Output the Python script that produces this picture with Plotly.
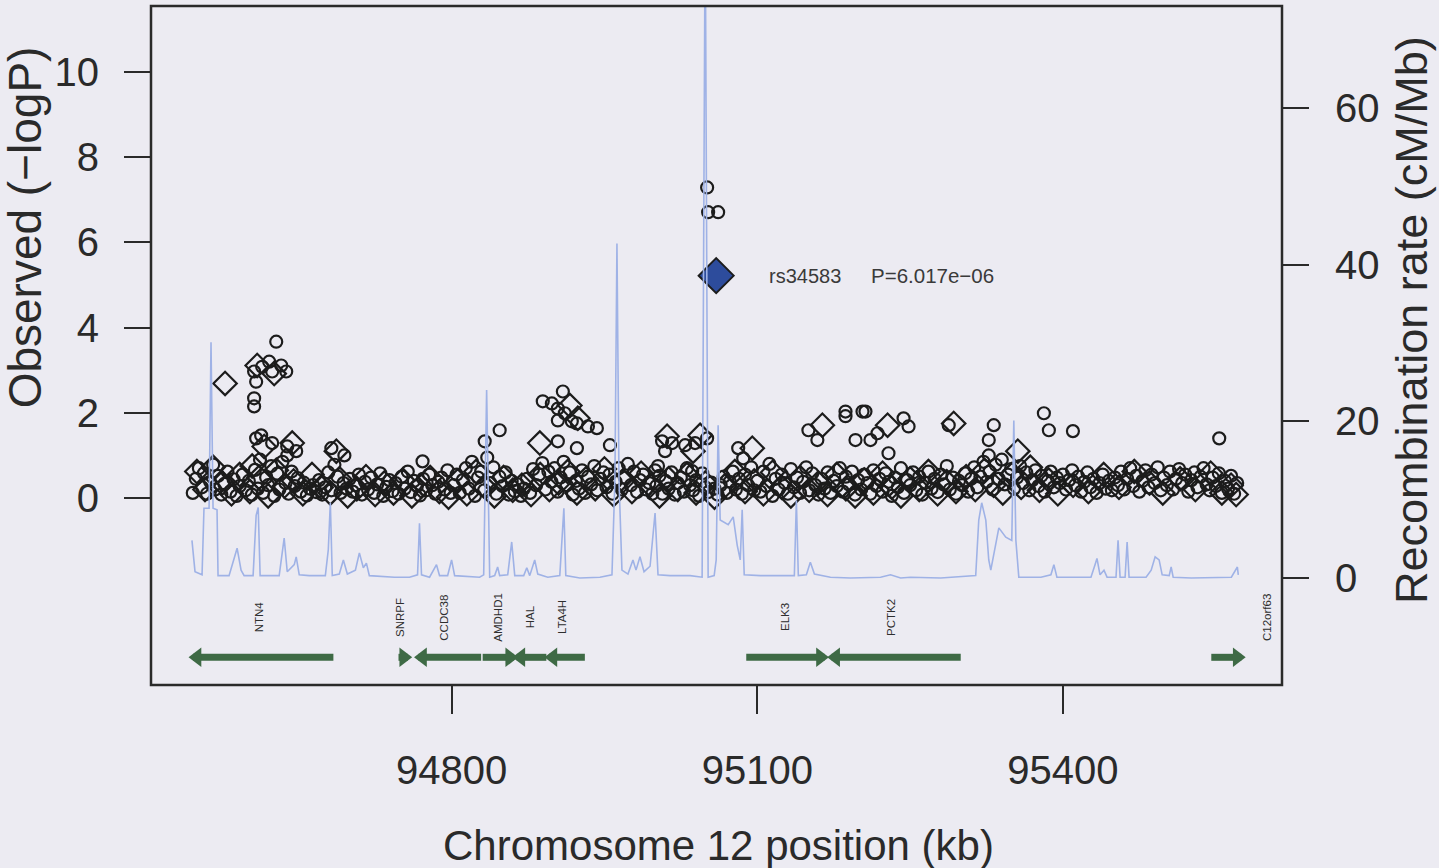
import plotly.graph_objects as go

BG = "#ecebf2"
INK = "#1c1c1c"
GREEN = "#3e6a45"
RECOMB_COLOR = "#9fb2e6"

# ---------------- recombination rate (cM/Mb) ----------------
recomb_kb = [94545.2, 94548.2, 94555.1, 94557.0, 94562.0, 94563.9, 94565.9, 94569.8, 94570.8, 94581.6,
             94587.5, 94589.5, 94593.4, 94596.4, 94605.2, 94608.2, 94610.2, 94612.1, 94630.8, 94635.7,
             94638.7, 94645.6, 94647.5, 94650.5, 94660.3, 94676.1, 94679.0, 94681.0, 94682.9, 94689.8,
             94693.8, 94697.7, 94705.6, 94709.5, 94713.4, 94716.4, 94719.3, 94743.9, 94758.7, 94766.6,
             94768.5, 94770.5, 94778.4, 94782.3, 94785.2, 94788.2, 94796.1, 94800.0, 94803.0, 94827.5,
             94831.5, 94834.4, 94837.4, 94842.3, 94845.2, 94847.2, 94855.1, 94859.0, 94862.0, 94870.8,
             94873.8, 94876.7, 94881.6, 94884.6, 94894.4, 94906.2, 94910.2, 94912.1, 94925.9, 94945.6,
             94957.4, 94960.3, 94962.3, 94964.3, 94967.2, 94973.1, 94978.0, 94981.0, 94984.9, 94988.9,
             94994.8, 94999.7, 95002.6, 95014.4, 95034.1, 95045.9, 95048.9, 95051.8, 95057.7, 95059.7,
             95061.6, 95063.6, 95071.5, 95076.4, 95080.3, 95083.3, 95085.2, 95087.2, 95103.0, 95136.4,
             95138.4, 95140.3, 95148.2, 95152.1, 95156.1, 95171.8, 95191.5, 95221.0, 95230.8, 95240.7,
             95250.5, 95280.0, 95314.4, 95317.4, 95320.3, 95324.3, 95327.2, 95329.2, 95337.1, 95343.9,
             95349.8, 95351.8, 95353.8, 95356.7, 95378.4, 95388.2, 95391.1, 95394.1, 95427.5, 95431.5,
             95433.4, 95436.4, 95440.3, 95443.3, 95452.1, 95454.1, 95456.1, 95461.0, 95463.0, 95464.9,
             95481.6, 95486.6, 95490.5, 95494.4, 95497.4, 95504.3, 95506.2, 95508.2, 95525.9, 95565.3,
             95571.2, 95572.1]
recomb_rate = [4.8, 0.8, 0.4, 8.9, 8.9, 30.1, 8.9, 8.7, 0.3, 0.3,
               2.9, 3.8, 1.0, 0.3, 0.3, 8.0, 9.0, 0.3, 0.3, 5.1,
               0.8, 1.7, 2.7, 0.4, 0.3, 0.3, 3.6, 9.6, 0.3, 0.5,
               2.3, 0.5, 1.0, 3.2, 1.3, 1.9, 0.3, 0.1, 0.1, 0.4,
               7.0, 0.4, 0.1, 1.0, 1.7, 0.3, 0.3, 2.3, 0.3, 0.1,
               0.4, 24.0, 0.1, 0.3, 1.4, 0.3, 0.4, 4.6, 0.3, 0.3,
               1.3, 0.3, 2.3, 0.5, 0.1, 0.3, 8.9, 0.3, 0.0, 0.1,
               0.4, 12.5, 42.7, 12.5, 1.0, 0.5, 2.3, 1.0, 2.7, 0.8,
               1.5, 8.3, 0.4, 0.3, 0.3, 0.1, 85.0, 0.1, 0.3, 2.3,
               19.5, 7.4, 6.8, 7.8, 4.2, 2.3, 8.7, 0.4, 0.3, 0.3,
               9.9, 0.3, 0.4, 2.0, 0.5, 0.1, 0.0, 0.1, 0.4, 0.0,
               0.1, 0.0, 0.3, 7.4, 9.6, 7.4, 2.3, 1.0, 6.4, 5.2,
               4.8, 20.1, 4.8, 0.1, 0.1, 0.4, 1.7, 0.1, 0.1, 1.7,
               2.5, 0.4, 1.0, 0.1, 0.1, 4.8, 0.1, 0.1, 4.6, 0.1,
               0.1, 1.0, 2.7, 2.3, 0.4, 0.3, 1.4, 0.1, 0.0, 0.1,
               1.4, 0.4]

# ---------------- SNP association results ----------------
# dense band of circles (position kb, -log10 P)
circ_a_kb = [94546, 94549, 94552, 94555, 94557, 94560, 94563, 94566, 94568, 94571, 94574, 94577, 94580,
             94583, 94586, 94589, 94592, 94595, 94598]
circ_a_p = [0.12, 0.45, 0.70, 0.25, 0.58, 0.10, 0.38, 0.78, 0.20, 0.52, 0.08, 0.33, 0.62,
            0.15, 0.44, 0.05, 0.28, 0.55, 0.18]
circ_b_kb = [94601, 94604, 94607, 94610, 94612, 94615, 94618, 94620, 94623, 94626, 94629, 94631, 94634,
             94637, 94640, 94643, 94646, 94649, 94652, 94655, 94658, 94661, 94664, 94667, 94670, 94673,
             94676, 94679, 94682, 94685, 94688, 94691, 94694, 94697]
circ_b_p = [0.40, 0.08, 0.66, 0.22, 0.90, 0.12, 0.48, 0.30, 0.75, 0.05, 0.57, 0.20, 0.85,
            0.35, 0.10, 0.62, 0.28, 0.47, 0.15, 0.36, 0.06, 0.22, 0.30, 0.14, 0.42, 0.08,
            0.25, 0.60, 0.18, 0.78, 0.50, 0.12, 0.35, 0.22]
circ_c_kb = [94700, 94703, 94706, 94709, 94712, 94715, 94718, 94721, 94724, 94727, 94730, 94733, 94736,
             94739, 94742, 94745, 94748, 94751, 94754, 94757, 94760, 94763, 94766, 94769, 94772, 94775,
             94778, 94781, 94784, 94787, 94790, 94793, 94796, 94799]
circ_c_p = [0.45, 0.15, 0.30, 0.55, 0.08, 0.38, 0.20, 0.48, 0.12, 0.32, 0.58, 0.05, 0.26,
            0.42, 0.16, 0.35, 0.10, 0.50, 0.22, 0.62, 0.14, 0.40, 0.28, 0.06, 0.45, 0.18,
            0.55, 0.30, 0.10, 0.38, 0.48, 0.20, 0.65, 0.12]
circ_d_kb = [94802, 94805, 94808, 94811, 94814, 94817, 94820, 94823, 94826, 94829, 94832, 94835, 94838,
             94841, 94844, 94847, 94850, 94853, 94856, 94859, 94862, 94865, 94868, 94871, 94874, 94877,
             94880, 94883, 94886, 94889, 94892, 94895, 94898]
circ_d_p = [0.30, 0.55, 0.12, 0.42, 0.70, 0.22, 0.85, 0.05, 0.48, 0.62, 0.18, 0.95, 0.35,
            0.72, 0.10, 0.50, 0.28, 0.60, 0.08, 0.40, 0.16, 0.32, 0.05, 0.22, 0.45, 0.12,
            0.68, 0.30, 0.55, 0.82, 0.20, 0.62, 0.38]
circ_e_kb = [94901, 94904, 94907, 94910, 94913, 94916, 94919, 94922, 94925, 94928, 94931, 94934, 94937,
             94940, 94943, 94946, 94949, 94952, 94955, 94958, 94961, 94964, 94967, 94970, 94973, 94976,
             94979, 94982, 94985, 94988, 94991, 94994, 94997]
circ_e_p = [0.70, 0.15, 0.48, 0.85, 0.30, 0.60, 0.08, 0.40, 0.22, 0.65, 0.12, 0.50, 0.32,
            0.75, 0.18, 0.45, 0.60, 0.25, 0.55, 0.10, 0.38, 0.70, 0.20, 0.48, 0.80, 0.30,
            0.62, 0.14, 0.42, 0.55, 0.20, 0.35, 0.10]
circ_f_kb = [95001, 95004, 95007, 95010, 95013, 95016, 95019, 95022, 95025, 95028, 95031, 95034, 95037,
             95040, 95043, 95046, 95049, 95052, 95055, 95058, 95061, 95064, 95067, 95070, 95073, 95076,
             95079, 95082, 95085, 95088, 95091, 95094, 95097]
circ_f_p = [0.28, 0.52, 0.10, 0.40, 0.22, 0.60, 0.08, 0.35, 0.48, 0.15, 0.70, 0.30, 0.18,
            0.42, 0.05, 0.58, 0.25, 0.14, 0.36, 0.22, 0.08, 0.30, 0.50, 0.12, 0.38, 0.62,
            0.20, 0.45, 0.10, 0.55, 0.30, 0.72, 0.18]
circ_g_kb = [95100, 95103, 95106, 95109, 95112, 95115, 95118, 95121, 95124, 95127, 95130, 95133, 95136,
             95139, 95142, 95145, 95148, 95151, 95154, 95157, 95160, 95163, 95166, 95169, 95172, 95175,
             95178, 95181, 95184, 95187, 95190, 95193, 95196, 95199]
circ_g_p = [0.40, 0.15, 0.62, 0.28, 0.80, 0.05, 0.45, 0.20, 0.55, 0.35, 0.10, 0.68, 0.25,
            0.48, 0.12, 0.38, 0.72, 0.18, 0.58, 0.30, 0.08, 0.45, 0.22, 0.60, 0.12, 0.40,
            0.28, 0.70, 0.15, 0.50, 0.32, 0.62, 0.08, 0.42]
circ_h_kb = [95202, 95205, 95208, 95211, 95214, 95217, 95220, 95223, 95226, 95229, 95232, 95235, 95238,
             95241, 95244, 95247, 95250, 95253, 95256, 95259, 95262, 95265, 95268, 95271, 95274, 95277,
             95280, 95283, 95286, 95289, 95292, 95295, 95298]
circ_h_p = [0.20, 0.55, 0.35, 0.10, 0.65, 0.28, 0.45, 0.15, 0.58, 0.38, 0.05, 0.48, 0.25,
            0.70, 0.12, 0.42, 0.30, 0.60, 0.18, 0.50, 0.08, 0.36, 0.62, 0.22, 0.45, 0.14,
            0.55, 0.32, 0.75, 0.20, 0.48, 0.10, 0.40]
circ_i_kb = [95301, 95304, 95307, 95310, 95313, 95316, 95319, 95322, 95325, 95328, 95331, 95334, 95337,
             95340, 95343, 95346, 95349, 95352, 95355, 95358, 95361, 95364, 95367, 95370, 95373, 95376,
             95379, 95382, 95385, 95388, 95391, 95394, 95397]
circ_i_p = [0.30, 0.58, 0.15, 0.45, 0.72, 0.25, 0.50, 0.85, 0.38, 0.62, 0.20, 0.78, 0.45,
            0.90, 0.32, 0.55, 0.68, 0.22, 0.48, 0.75, 0.35, 0.60, 0.18, 0.42, 0.65, 0.28,
            0.52, 0.15, 0.40, 0.62, 0.25, 0.48, 0.35]
circ_j_kb = [95400, 95403, 95406, 95409, 95412, 95415, 95418, 95421, 95424, 95427, 95430, 95433, 95436,
             95439, 95442, 95445, 95448, 95451, 95454, 95457, 95460, 95463, 95466, 95469, 95472, 95475,
             95478, 95481, 95484, 95487, 95490, 95493, 95496, 95499]
circ_j_p = [0.55, 0.20, 0.42, 0.65, 0.30, 0.50, 0.15, 0.38, 0.60, 0.25, 0.45, 0.12, 0.35,
            0.55, 0.22, 0.40, 0.18, 0.48, 0.30, 0.62, 0.20, 0.45, 0.70, 0.28, 0.52, 0.15,
            0.40, 0.65, 0.25, 0.55, 0.35, 0.72, 0.18, 0.48]
circ_k_kb = [95502, 95505, 95508, 95511, 95514, 95517, 95520, 95523, 95526, 95529, 95532, 95535, 95538,
             95541, 95544, 95547, 95550, 95553, 95556, 95559, 95562, 95565, 95568, 95571]
circ_k_p = [0.30, 0.62, 0.20, 0.45, 0.68, 0.35, 0.55, 0.15, 0.42, 0.60, 0.25, 0.50, 0.70,
            0.32, 0.18, 0.48, 0.28, 0.58, 0.12, 0.40, 0.22, 0.52, 0.10, 0.35]

# circles standing above the band
circ_top_kb = [94627.9, 94606.2, 94614.1, 94621.0, 94632.8, 94637.7, 94608.2, 94623.9, 94606.2, 94606.2,
               94613.1, 94608.2, 94623.9, 94638.7, 94647.5, 94638.7, 94682.0, 94694.8, 94771.5, 94832.5,
               94847.2, 94889.5, 94898.4, 94909.2, 94904.3, 94904.3, 94911.1, 94918.0, 94923.0, 94933.8,
               94942.6, 94904.3, 94923.0, 94955.4, 95006.6, 95016.4, 95009.5, 95029.2, 95039.0, 95050.8,
               95002.6, 94999.7, 95036.1, 95081.3, 95086.2, 95050.8, 95051.8, 95061.6, 95150.2, 95159.0,
               95186.6, 95186.6, 95203.3, 95206.2, 95196.4, 95211.1, 95218.0, 95243.6, 95248.5, 95228.8,
               95287.9, 95332.1, 95327.2, 95327.2, 95381.3, 95386.2, 95409.8, 95553.4]
circ_top_p = [3.67, 2.97, 3.08, 3.20, 3.11, 2.97, 2.73, 2.97, 2.34, 2.15,
              1.47, 1.40, 1.29, 1.21, 1.10, 1.00, 1.17, 1.00, 0.86, 1.33,
              1.59, 2.27, 2.22, 2.50, 2.10, 1.82, 1.99, 1.80, 1.75, 1.68,
              1.64, 1.33, 1.17, 1.24, 1.33, 1.29, 1.10, 1.24, 1.29, 1.40,
              0.75, 0.65, 0.63, 1.17, 0.93, 7.29, 6.71, 6.71, 1.59, 1.36,
              2.03, 1.92, 2.03, 2.03, 1.36, 1.36, 1.52, 1.87, 1.68, 1.05,
              1.71, 1.71, 1.36, 1.00, 1.99, 1.59, 1.57, 1.40]

# diamonds in the band
dia_band_kb = [94550, 94558, 94566, 94575, 94584, 94592,
               94602, 94611, 94620, 94628, 94636, 94645, 94654, 94663, 94672, 94681, 94690, 94698,
               94707, 94716, 94725, 94734, 94743, 94752, 94761, 94770, 94779, 94788, 94797,
               94806, 94815, 94824, 94833, 94842, 94851, 94860, 94869, 94878, 94887, 94896,
               94905, 94914, 94923, 94932, 94941, 94950, 94959, 94968, 94977, 94986, 94995,
               95004, 95013, 95022, 95031, 95040, 95049, 95058, 95068, 95078, 95088, 95097,
               95106, 95115, 95124, 95133, 95142, 95151, 95160, 95169, 95178, 95187, 95196,
               95205, 95214, 95223, 95232, 95241, 95250, 95259, 95268, 95277, 95286, 95295,
               95305, 95314, 95323, 95332, 95341, 95350, 95359, 95368, 95377, 95386, 95395,
               95410, 95425, 95440, 95455, 95470, 95485, 95498,
               95515, 95530, 95545, 95556, 95565, 95570]
dia_band_p = [0.62, 0.20, 0.72, 0.35, 0.10, 0.55,
              0.15, 0.48, 0.05, 0.65, 0.28, 0.40, 0.10, 0.55, 0.25, 0.12, 0.45, 0.05,
              0.22, 0.50, 0.08, 0.35, 0.12, 0.42, 0.05, 0.28, 0.48, 0.15, 0.02,
              0.40, 0.10, 0.62, 0.25, 0.05, 0.48, 0.18, 0.30, 0.08, 0.55, 0.20,
              0.35, 0.62, 0.12, 0.45, 0.22, 0.68, 0.08, 0.40, 0.15, 0.58, 0.30,
              0.05, 0.45, 0.20, 0.55, 0.12, 0.35, 0.02, 0.28, 0.62, 0.15, 0.40,
              0.10, 0.60, 0.25, 0.05, 0.48, 0.18, 0.35, 0.08, 0.55, 0.22, 0.05,
              0.42, 0.12, 0.58, 0.25, 0.05, 0.45, 0.20, 0.62, 0.10, 0.38, 0.15,
              0.50, 0.20, 0.65, 0.30, 0.12, 0.55, 0.25, 0.72, 0.18, 0.42, 0.10,
              0.30, 0.15, 0.55, 0.25, 0.62, 0.35, 0.12,
              0.45, 0.20, 0.58, 0.12, 0.30, 0.08]
# diamonds standing above the band
dia_top_kb = [94577.7, 94609.2, 94625.9, 94616.1, 94643.6, 94604.3, 94686.9, 94886.6, 94916.1, 94923.9,
              95011.5, 95043.9, 95037.0, 95095.1, 95163.9, 95227.9, 95292.8, 95355.7]
dia_top_p = [2.69, 3.11, 2.92, 1.21, 1.29, 0.75, 1.10, 1.29, 2.17, 1.87,
             1.45, 1.47, 1.10, 1.17, 1.71, 1.71, 1.75, 1.10]

# lead SNP
lead_kb = [95059.7]
lead_p = [5.22]
lead_name = "rs34583"
lead_pval = "P=6.017e\u221206"

# ---------------- genes ----------------
gene_names = ["NTN4", "SNRPF", "CCDC38", "AMDHD1", "HAL", "LTA4H", "ELK3", "PCTK2", "C12orf63"]
gene_start = [94546.2, 94747.9, 94767.5, 94830.5, 94864.0, 94895.5, 95089.2, 95173.0, 95545.6]
gene_end = [94684.0, 94757.0, 94829.0, 94861.0, 94893.0, 94930.8, 95166.0, 95299.7, 95575.0]
gene_strand = ["-", "+", "-", "+", "-", "-", "+", "-", "+"]
gene_label_kb = [94611.0, 94750.0, 94793.0, 94846.0, 94877.0, 94909.0, 95127.0, 95232.0, 95601.0]
x_tick_vals = [94800, 95100, 95400]
x_tick_text = ["94800", "95100", "95400"]
GENE_Y = -3.74
LABEL_Y = -2.8

fig = go.Figure()

fig.add_trace(go.Scatter(x=recomb_kb, y=recomb_rate, yaxis="y2", mode="lines",
                         line=dict(color=RECOMB_COLOR, width=1.6), hoverinfo="skip"))

open_marker = dict(color="rgba(0,0,0,0)", line=dict(color=INK, width=2.2))
all_circ_kb = (circ_a_kb + circ_b_kb + circ_c_kb + circ_d_kb + circ_e_kb + circ_f_kb + circ_g_kb
               + circ_h_kb + circ_i_kb + circ_j_kb + circ_k_kb + circ_top_kb)
all_circ_p = (circ_a_p + circ_b_p + circ_c_p + circ_d_p + circ_e_p + circ_f_p + circ_g_p
              + circ_h_p + circ_i_p + circ_j_p + circ_k_p + circ_top_p)

fig.add_trace(go.Scatter(x=dia_band_kb + dia_top_kb, y=dia_band_p + dia_top_p, mode="markers",
                         marker=dict(symbol="diamond", size=18, **open_marker)))
fig.add_trace(go.Scatter(x=all_circ_kb, y=all_circ_p, mode="markers",
                         marker=dict(symbol="circle", size=12, **open_marker)))
fig.add_trace(go.Scatter(x=lead_kb, y=lead_p, mode="markers",
                         marker=dict(symbol="diamond", size=27, color="#2d4c9c",
                                     line=dict(color=INK, width=2))))

# genes: body + arrow head
for name, s, e, strand in zip(gene_names, gene_start, gene_end, gene_strand):
    fig.add_trace(go.Scatter(x=[s, e], y=[GENE_Y, GENE_Y], mode="lines",
                             line=dict(color=GREEN, width=7), hoverinfo="skip"))
    head_x = e - 4 if strand == "+" else s + 4
    fig.add_trace(go.Scatter(x=[head_x], y=[GENE_Y], mode="markers", hoverinfo="skip",
                             marker=dict(symbol="triangle-right" if strand == "+" else "triangle-left",
                                         size=17, color=GREEN, line=dict(width=0))))

annotations = []
for name, lx in zip(gene_names, gene_label_kb):
    annotations.append(dict(x=lx, y=LABEL_Y, xref="x", yref="y", text=name, showarrow=False,
                            textangle=-90, font=dict(size=11.5, color="#2e2e2e")))

annotations += [
    dict(x=lead_kb[0], y=lead_p[0], xref="x", yref="y", text=lead_name, showarrow=False,
         xanchor="left", xshift=51, font=dict(size=20, color="#3a3a3a")),
    dict(x=lead_kb[0], y=lead_p[0], xref="x", yref="y", text=lead_pval, showarrow=False,
         xanchor="left", xshift=153, font=dict(size=20.5, color="#3a3a3a")),
    dict(x=0, y=0.674, xref="paper", yref="paper", text="Observed (\u2212logP)", showarrow=False,
         textangle=-90, xanchor="center", yanchor="middle", xshift=-126,
         font=dict(size=46, color="#2a2a2a")),
    dict(x=1, y=0.5376, xref="paper", yref="paper", text="Recombination rate (cM/Mb)", showarrow=False,
         textangle=-90, xanchor="center", yanchor="middle", xshift=130,
         font=dict(size=45, color="#2a2a2a")),
    dict(x=0.502, y=0, xref="paper", yref="paper", text="Chromosome 12 position (kb)", showarrow=False,
         xanchor="center", yanchor="middle", yshift=-160, font=dict(size=42, color="#2a2a2a")),
]

axis_common = dict(showgrid=False, zeroline=False, showline=False, ticks="outside",
                   tickwidth=2, tickcolor="#2a2a2a", tickfont=dict(size=40, color="#2a2a2a"))

fig.update_layout(
    width=1439, height=868,
    margin=dict(l=151, r=157, t=6, b=183),
    paper_bgcolor=BG, plot_bgcolor=BG,
    showlegend=False,
    font=dict(family="Liberation Sans, Arial, sans-serif", color="#2a2a2a"),
    xaxis=dict(range=[94505, 95615], tickvals=x_tick_vals, ticktext=x_tick_text, ticklen=28,
               ticklabelstandoff=22, **axis_common),
    yaxis=dict(range=[-4.39, 11.55], tickvals=[0, 2, 4, 6, 8, 10], ticklen=26,
               ticklabelstandoff=17, **axis_common),
    yaxis2=dict(range=[-13.67, 73.05], tickvals=[0, 20, 40, 60], ticklen=26, overlaying="y",
                side="right", ticklabelstandoff=18, **axis_common),
    shapes=[dict(type="rect", xref="paper", yref="paper", x0=0, x1=1, y0=0, y1=1,
                 line=dict(color="#2a2a2a", width=2.5), layer="above")],
    annotations=annotations,
)

fig.write_html("out.html")
